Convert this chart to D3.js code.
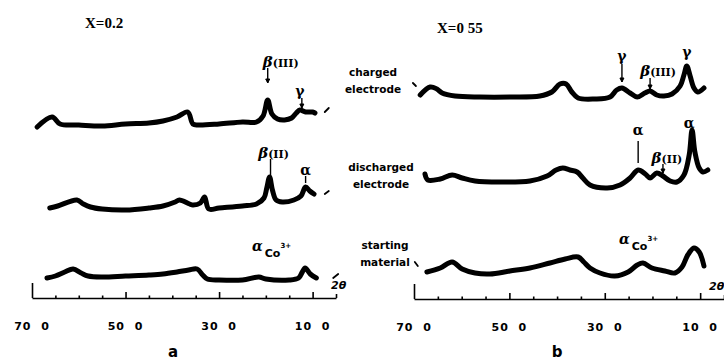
<!DOCTYPE html>
<html lang="en">
  <head>
    <meta charset="utf-8" />
    <title>XRD patterns</title>
    <script src="https://cdn.jsdelivr.net/npm/d3@7"></script>
    <style>
      body { margin: 0; background: #fff; }
      text { fill: #000; }
      .lab { font-family: "DejaVu Sans", sans-serif; font-weight: bold; font-size: 10.5px; }
      .tk { font-family: "DejaVu Sans", sans-serif; font-weight: bold; font-size: 11px; white-space: pre; letter-spacing: 1px; }
      .ttl { font-family: "Liberation Serif", serif; font-weight: bold; font-size: 15px; }
      .gr { font-family: "DejaVu Serif", serif; font-weight: bold; }
    </style>
  </head>
  <body>
    <script>
      // 2-theta ticks and labels
      var thetaTicks = [70, 65, 60, 55, 50, 45, 40, 35, 30, 25, 20, 15, 10, 5]
      var labelTicks = [70, 50, 30, 10]
      var tickLabels = ["70  0", "50  0", "30  0", "10  0"]

      // panel a, X=0.2
      var aChargedTheta = [68.9, 65.7, 64.0, 60, 55, 50, 45, 42, 39, 36.7, 35.6, 34.5, 30, 25, 22, 20.6, 19.6, 18.7, 17.5, 16, 14.5, 13.5, 12.7, 11.5, 10, 9.5]
      var aCharged = [-2, 8, 1, 0, -1, 1, 2, 4, 8, 13, 1, 0, 1, 3, 3, 9, 25, 11, 6, 5, 7, 12, 15, 13, 13, 12]
      var aDischargedTheta = [66.2, 64.5, 60.4, 59, 57.5, 55, 50, 45, 42, 39.4, 38.5, 36.3, 35.6, 34, 33.1, 32.2, 30, 25, 22, 20.4, 19.8, 19.2, 18.6, 17.8, 16.5, 14, 12.5, 11.5, 10.6, 9.7]
      var aDischarged = [0, 2, 8, 4, 1, -1, -2, 0, 2, 6, 8, 4, 3, 5, 11, -1, 0, 2, 4, 10, 20, 31, 18, 8, 6, 8, 12, 21, 17, 14]
      var aStartingTheta = [66.8, 65, 63, 61.2, 59.5, 58, 55, 50, 45, 42, 39, 36.5, 34.7, 33.5, 32.5, 30, 25, 21.5, 20, 15, 13, 12.2, 11.6, 10.5, 9.2]
      var aStarting = [-1, 1, 5, 8, 4, 1, 0, 1, 2, 3, 5, 7, 8, 2, -2, -3, -3, 0, -2, -3, -1, 5, 9, 3, -1]

      // panel b, X=0.55
      var bChargedTheta = [68.7, 66.6, 65.2, 64.1, 61.4, 56.2, 49.9, 43.6, 41.1, 39.4, 38.1, 36.9, 35.6, 32.1, 28.9, 27.5, 26.4, 24.7, 23.2, 21.6, 20.5, 19.1, 17.6, 15.9, 14.2, 13.4, 12.8, 12.1, 11.3, 10.5, 9.2]
      var bCharged = [1, 9, 7, 3, 0, -1, -1, 0, 4, 12, 12, 4, -2, -3, -1, 6, 8, 3, -1, 3, 5, 1, 0, 2, 10, 21, 30, 20, 8, 4, 8]
      var bDischargedTheta = [67.7, 67.1, 64.5, 62, 59.9, 57.2, 52, 45.7, 42.1, 40.2, 38.8, 37.3, 35.8, 34.6, 33.1, 29.5, 26.8, 24.7, 23, 21.5, 20.5, 19.1, 17.8, 16.3, 14.9, 13.4, 12.3, 11.7, 11.1, 10.2, 9.4, 8.4]
      var bDischarged = [7, 1, 2, 6, 3, 0, -1, 0, 5, 11, 13, 11, 9, 3, -4, -7, -4, 3, 11, 7, 3, 8, 5, 0, -1, 6, 26, 51, 29, 13, 9, 11]
      var bStartingTheta = [67.3, 64.5, 62, 59.9, 57.2, 54.1, 49.9, 45.7, 41.5, 38.3, 35.6, 34.4, 33.1, 31, 27.9, 25.1, 23.2, 22, 20.1, 17.4, 15.3, 13.8, 12.6, 11.3, 10.2, 9.2]
      var bStarting = [0, 4, 10, 3, -1, -2, 1, 4, 9, 13, 15, 10, 4, -1, -4, 0, 7, 9, 4, 1, -1, 5, 17, 24, 20, 6]

      // baseline of each trace above the axis (same units as intensity)
      var aOffsets = [173, 90, 21]
      var bOffsets = [203, 118, 27]

      var svg = d3.select("body").append("svg")
                  .attr("width", 724)
                  .attr("height", 361)

      function panel(opt) {
        var x = d3.scaleLinear().domain([70, 5]).range(opt.xr)
        var y = d3.scaleLinear().domain([0, 250]).range([opt.y0, opt.y0 - 250])
        var line = d3.line().curve(d3.curveCatmullRom.alpha(0.5))

        opt.traces.forEach(function(t, i) {
          var pts = t[0].map(function(th, j) { return [x(th), y(t[1][j] + opt.offsets[i])] })
          svg.append("path")
             .attr("d", line(pts))
             .attr("fill", "none")
             .attr("stroke", "#000")
             .attr("stroke-width", 5)
             .attr("stroke-linejoin", "round")
             .attr("stroke-linecap", "round")
        })

        var g = svg.append("g")
                   .attr("transform", "translate(0," + opt.y0 + ")")
                   .call(d3.axisBottom(x).tickValues(thetaTicks).tickSizeInner(-3).tickSizeOuter(0).tickFormat(""))
        g.select(".domain").attr("stroke", "#000").attr("stroke-width", 1.6)
        g.selectAll(".tick line")
         .attr("stroke-width", 1.6)
         .attr("y2", function(d) { return d == 70 ? -15 : (labelTicks.indexOf(d) >= 0 ? -6 : (d == 5 ? -4 : -2.5)) })

        labelTicks.forEach(function(d, i) {
          svg.append("text").attr("class", "tk")
             .attr("x", x(d)).attr("y", opt.y0 + 32)
             .attr("text-anchor", "middle")
             .text(tickLabels[i])
        })

        svg.append("text").attr("class", "ttl").attr("x", opt.title[1]).attr("y", opt.title[2]).text(opt.title[0])
        svg.append("text")
           .attr("x", opt.letter[1]).attr("y", 357)
           .attr("text-anchor", "middle")
           .style("font-family", "DejaVu Sans").style("font-weight", "bold").style("font-size", "15px")
           .text(opt.letter[0])
        svg.append("text")
           .attr("x", opt.twoTheta[0]).attr("y", opt.twoTheta[1])
           .style("font-family", "DejaVu Sans").style("font-weight", "bold").style("font-style", "italic").style("font-size", "11px")
           .text("2θ")

        // peak annotations
        opt.notes.forEach(function(n) {
          var px = x(n.th)
          var t = svg.append("text").attr("class", "gr").attr("x", px + (n.dx || 0)).attr("y", n.ly).attr("text-anchor", "middle")
          if (n.kind == "beta") {
            t.append("tspan").style("font-style", "italic").style("font-size", "15px").text("β")
            t.append("tspan").style("font-size", "11px").text("(" + n.roman + ")")
          } else {
            t.style("font-size", "14px").text(n.kind == "alpha" ? "α" : "γ")
          }
          if (n.l1 != null) {
            svg.append("line").attr("x1", px).attr("x2", px).attr("y1", n.l1).attr("y2", n.l2)
               .attr("stroke", "#000").attr("stroke-width", 1.4)
            if (n.arrow) {
              svg.append("path")
                 .attr("d", "M" + (px - 2) + "," + (n.l2 - 4) + "L" + px + "," + n.l2 + "L" + (px + 2) + "," + (n.l2 - 4) + "Z")
                 .attr("fill", "#000").attr("stroke", "#000").attr("stroke-width", 1)
            }
          }
        })

        // alpha Co3+
        var c = svg.append("text").attr("class", "gr").attr("x", opt.co[0]).attr("y", opt.co[1])
        c.append("tspan").style("font-size", "14px").style("font-style", "italic").text("α")
        c.append("tspan").attr("dx", 2).attr("dy", 6).style("font-family", "DejaVu Sans").style("font-size", "11px").text("Co")
        c.append("tspan").attr("dy", -9).style("font-family", "DejaVu Sans").style("font-size", "7px").text("3+")

        // small pen marks at the trace ends
        opt.marks.forEach(function(m) {
          svg.append("line")
             .attr("x1", x(m[0])).attr("y1", y(m[1]))
             .attr("x2", x(m[0]) + m[2]).attr("y2", y(m[1]) - m[3])
             .attr("stroke", "#000").attr("stroke-width", 1.8).attr("stroke-linecap", "round")
        })
      }

      panel({
        xr: [32, 336], y0: 298,
        traces: [[aChargedTheta, aCharged], [aDischargedTheta, aDischarged], [aStartingTheta, aStarting]],
        offsets: aOffsets,
        title: ["X=0.2", 85, 28],
        letter: ["a", 173],
        twoTheta: [331, 289],
        co: [252, 251],
        notes: [
          {kind: "beta", roman: "III", th: 19.6, dx: 13, ly: 67, l1: 68, l2: 83, arrow: true},
          {kind: "gamma", th: 12.3, dx: -2, ly: 96, l1: 98, l2: 108, arrow: true},
          {kind: "beta", roman: "II", th: 19.0, dx: 3, ly: 158, l1: 159, l2: 176},
          {kind: "alpha", th: 11.5, ly: 175, l1: 176, l2: 183}
        ],
        marks: [[7.4, 186, 4, 4], [7.4, 104, 4, 3], [5.6, 20, 5, 4]]
      })

      panel({
        xr: [414, 724], y0: 299,
        traces: [[bChargedTheta, bCharged], [bDischargedTheta, bDischarged], [bStartingTheta, bStarting]],
        offsets: bOffsets,
        title: ["X=0 55", 437, 33],
        letter: ["b", 557],
        twoTheta: [709, 290],
        co: [619, 244],
        notes: [
          {kind: "gamma", th: 26.4, ly: 61, l1: 64, l2: 82, arrow: true},
          {kind: "beta", roman: "III", th: 20.5, dx: 8, ly: 76, l1: 78, l2: 89, arrow: true},
          {kind: "gamma", th: 12.8, ly: 57},
          {kind: "alpha", th: 23.0, ly: 135, l1: 141, l2: 163},
          {kind: "beta", roman: "II", th: 17.8, dx: 4, ly: 163, l1: 164, l2: 173, arrow: true},
          {kind: "alpha", th: 11.9, dx: -2, ly: 128}
        ],
        marks: [[69.6, 213, -3, 3], [69.2, 33, -3, 4]]
      })

      // sample names between the panels
      var names = [["charged", "electrode", 76, 373], ["discharged", "electrode", 171, 381], ["starting", "material", 249, 385]]
      names.forEach(function(n) {
        var t = svg.append("text").attr("class", "lab").attr("y", n[2]).attr("text-anchor", "middle")
        t.append("tspan").attr("x", n[3]).text(n[0])
        t.append("tspan").attr("x", n[3]).attr("dy", 17).text(n[1])
      })
    </script>
  </body>
</html>
